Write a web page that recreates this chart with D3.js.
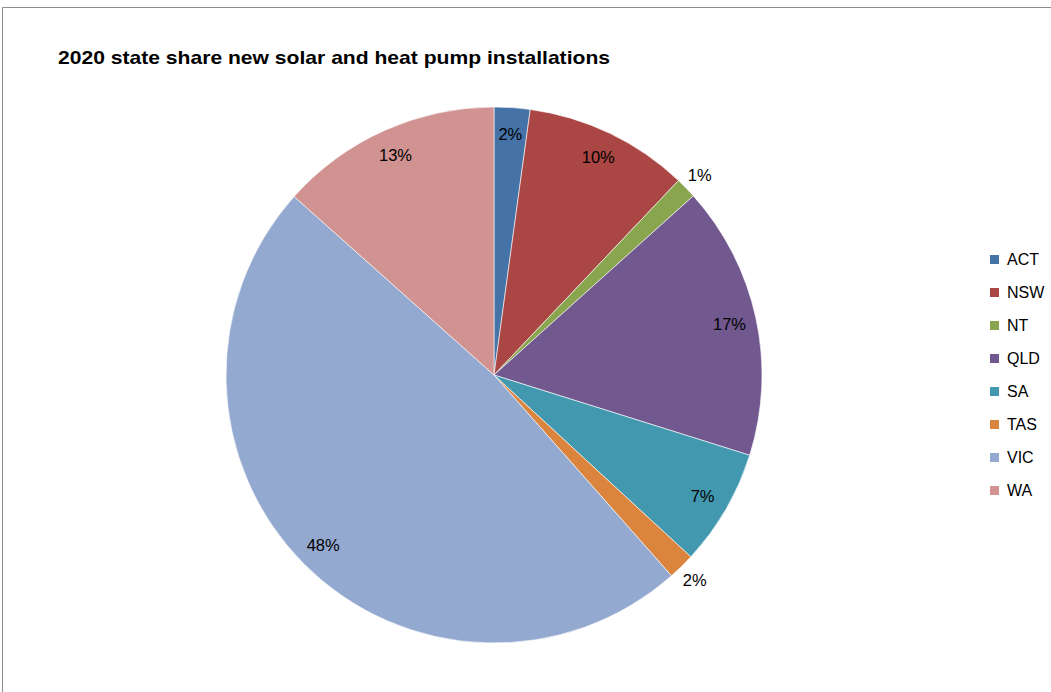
<!DOCTYPE html>
<html><head><meta charset="utf-8">
<script src="https://cdn.jsdelivr.net/npm/d3@7"></script>
<style>body{margin:0;background:#fff}svg{display:block}</style>
</head><body><svg id="c" width="1051" height="692"></svg>
<script>
const categories = ["ACT","NSW","NT","QLD","SA","TAS","VIC","WA"];
const shares = [2.16, 9.92, 1.27, 16.49, 7.03, 1.61, 48.12, 13.40];
const labels = ["2%","10%","1%","17%","7%","2%","48%","13%"];
const outside = [false,false,true,false,false,true,false,false];
const colors = ["#4572A7","#AA4643","#89A54E","#71588F","#4198AF","#DB843D","#93A9CF","#D19392"];
const title = "2020 state share new solar and heat pump installations";

const svg = d3.select("#c");
const font = "'Liberation Sans', Arial, sans-serif";
// frame
svg.append("path").attr("d","M2.5,692 V7.5 H1051").attr("fill","none").attr("stroke","#8c8c8c").attr("stroke-width",1);
svg.append("text").attr("x",58).attr("y",64).attr("font-family",font).attr("font-weight","bold")
  .attr("font-size",19).attr("fill","#000").attr("textLength",552).attr("lengthAdjust","spacingAndGlyphs").text(title);

const cx=494, cy=375, R=268;
const data = categories.map((c,i)=>({cat:c,v:shares[i],lab:labels[i],out:outside[i],col:colors[i]}));
const pie = d3.pie().value(d=>d.v).sort(null);
const arcs = pie(data);
const arc = d3.arc().innerRadius(0).outerRadius(R);
const g = svg.append("g").attr("transform",`translate(${cx},${cy})`);
g.selectAll("path").data(arcs).join("path").attr("d",arc).attr("fill",d=>d.data.col)
  .attr("stroke","#fff").attr("stroke-width",0.6);
g.selectAll("text").data(arcs).join("text")
  .attr("transform",d=>{const a=(d.startAngle+d.endAngle)/2; const r=d.data.out?287:241;
    return `translate(${r*Math.sin(a)},${-r*Math.cos(a)})`;})
  .attr("text-anchor","middle").attr("dy","0.35em").attr("font-family",font).attr("font-size",16.5)
  .attr("fill","#000").text(d=>d.data.lab);

const leg = svg.append("g");
const ly = d3.scaleBand().domain(categories).range([243,507]);
categories.forEach((c,i)=>{
  const y = ly(c)+ly.bandwidth()/2;
  leg.append("rect").attr("x",990).attr("y",y-4.5).attr("width",9).attr("height",9).attr("fill",colors[i]);
  leg.append("text").attr("x",1007).attr("y",y).attr("dy","0.35em").attr("font-family",font)
    .attr("font-size",16).attr("fill","#000").text(c);
});
</script></body></html>
